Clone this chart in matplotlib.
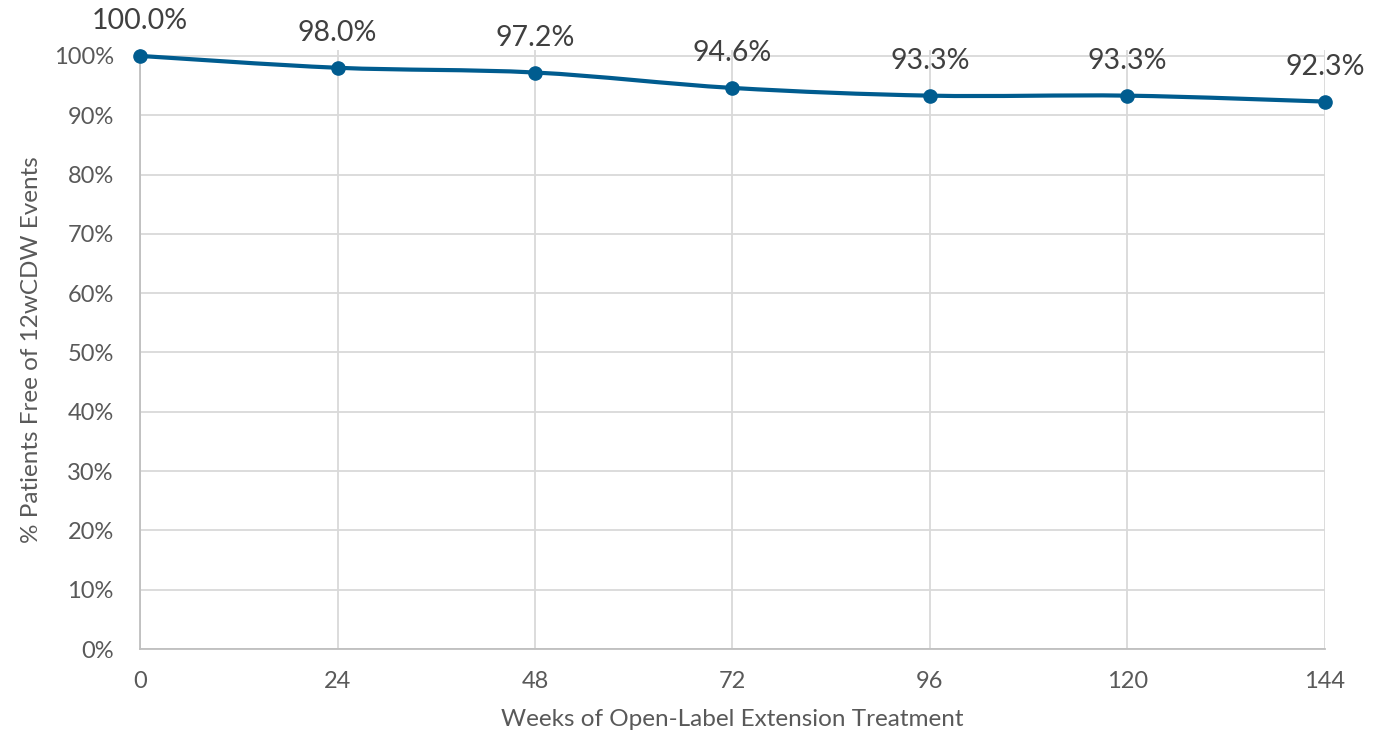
import numpy as np
import matplotlib.pyplot as plt
from matplotlib.path import Path
from matplotlib.patches import PathPatch
from matplotlib.ticker import PercentFormatter

weeks = [0, 24, 48, 72, 96, 120, 144]
pct_free = [100.0, 98.0, 97.2, 94.6, 93.3, 93.3, 92.3]
labels = ['100.0%', '98.0%', '97.2%', '94.6%', '93.3%', '93.3%', '92.3%']

plt.rcParams['font.family'] = ['Lato', 'DejaVu Sans']
line_col = '#005C8F'

fig = plt.figure(figsize=(13.73, 7.35), dpi=100)
ax = fig.add_axes([0.102, 0.117, 0.863, 0.815])

x = np.array(weeks, dtype=float)
y = np.array(pct_free) / 100.0

# smoothed line like excel (catmull-rom -> bezier)
px = np.concatenate([[x[0]], x, [x[-1]]])
py = np.concatenate([[y[0]], y, [y[-1]]])
verts = [(x[0], y[0])]
codes = [Path.MOVETO]
for i in range(1, len(px) - 2):
    c1 = (px[i] + (px[i+1] - px[i-1]) / 6, py[i] + (py[i+1] - py[i-1]) / 6)
    c2 = (px[i+1] - (px[i+2] - px[i]) / 6, py[i+1] - (py[i+2] - py[i]) / 6)
    verts += [c1, c2, (px[i+1], py[i+1])]
    codes += [Path.CURVE4] * 3
ax.add_patch(PathPatch(Path(verts, codes), fill=False, edgecolor=line_col,
                       lw=3, capstyle='round', zorder=3, clip_on=False))
ax.plot(x, y, 'o', color=line_col, ms=9.5, zorder=4, clip_on=False)

for xi, yi, lab in zip(x, y, labels):
    ax.annotate(lab, (xi, yi), xytext=(0, 25), textcoords='offset points',
                ha='center', va='center', fontsize=20.5, color='#404040')

ax.set_xlim(0, 144)
ax.set_ylim(0, 1.01)
ax.set_xticks(weeks)
ax.set_yticks(np.arange(0, 1.01, 0.1))
ax.yaxis.set_major_formatter(PercentFormatter(1.0, decimals=0))
ax.grid(True, color='#D9D9D9', lw=1.3, zorder=0)
ax.set_axisbelow(True)
for s in ['top', 'right']:
    ax.spines[s].set_visible(False)
for s in ['left', 'bottom']:
    ax.spines[s].set_color('#BFBFBF')
    ax.spines[s].set_linewidth(1.3)
ax.tick_params(length=0, labelsize=17, colors='#595959')
ax.tick_params(axis='x', pad=16)
ax.tick_params(axis='y', pad=19)

ax.set_xlabel('Weeks of Open-Label Extension Treatment', fontsize=17.5, color='#595959', labelpad=12)
ax.set_ylabel('% Patients Free of 12wCDW Events', fontsize=17.5, color='#595959', labelpad=8)

fig.savefig('out.png', dpi=100)
